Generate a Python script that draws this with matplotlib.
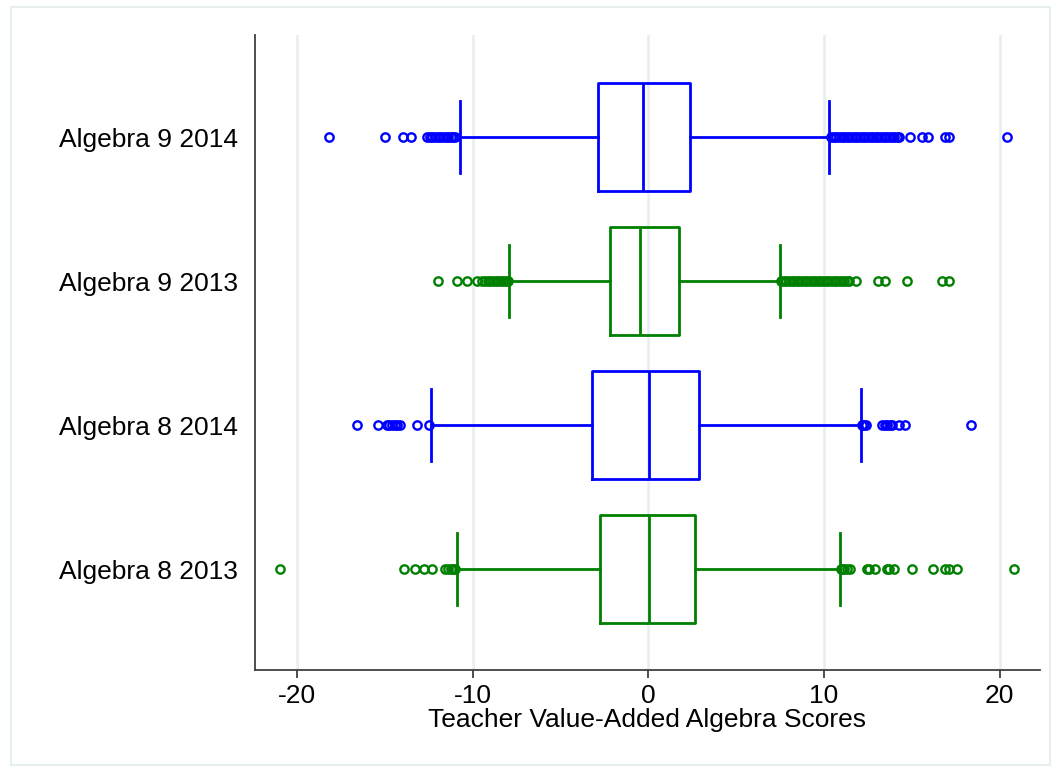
import matplotlib
matplotlib.use("Agg")
import matplotlib.pyplot as plt
from matplotlib.patches import Rectangle

plt.rcParams['font.family'] = ['Liberation Sans', 'DejaVu Sans']

# Categories bottom -> top
categories = ["Algebra 8 2013", "Algebra 8 2014", "Algebra 9 2013", "Algebra 9 2014"]
colors = ["#008000", "#0000FF", "#008000", "#0000FF"]

q1 = [-2.77, -3.2, -2.2, -2.87]
median = [0.02, 0.03, -0.46, -0.3]
q3 = [2.64, 2.9, 1.73, 2.36]
whisker_low = [-10.87, -12.4, -7.96, -10.75]
whisker_high = [10.9, 12.08, 7.52, 10.3]

outliers_a8_2013 = [-21.0, -13.9, -13.3, -12.8, -12.3, -11.57, -11.4, -11.25, -11.1, -11.0,
                    10.95, 11.05, 11.15, 11.3, 11.5, 12.45, 12.55, 12.9, 13.6, 13.7, 14.0,
                    15.0, 16.2, 16.9, 17.1, 17.6, 20.8]
outliers_a8_2014 = [-16.6, -15.4, -14.9, -14.75, -14.6, -14.45, -14.3, -14.15, -13.2, -12.5,
                    12.15, 12.25, 12.4, 13.3, 13.45, 13.6, 13.75, 13.9, 14.25, 14.64, 18.35]
outliers_a9_2013 = [-12.0, -10.9, -10.3, -9.76, -9.45, -9.3, -9.15, -9.0, -8.85, -8.7, -8.55,
                    -8.4, -8.25, -8.1, -8.0,
                    7.55, 7.7, 7.85, 8.0, 8.15, 8.3, 8.45, 8.6, 8.75, 8.9, 9.05, 9.2, 9.35,
                    9.5, 9.65, 9.8, 9.95, 10.1, 10.25, 10.4, 10.55, 10.7, 10.85, 11.0, 11.15,
                    11.3, 11.4, 11.8, 13.1, 13.5, 14.7, 16.7, 17.1]
outliers_a9_2014 = [-18.2, -15.0, -14.0, -13.5, -12.6, -12.45, -12.3, -12.15, -12.0, -11.85,
                    -11.7, -11.55, -11.4, -11.25, -11.1, -11.0,
                    10.4, 10.55, 10.7, 10.85, 11.0, 11.15, 11.3, 11.45, 11.6, 11.75, 11.9,
                    12.05, 12.2, 12.35, 12.5, 12.65, 12.8, 12.95, 13.1, 13.25, 13.4, 13.55,
                    13.7, 13.85, 14.0, 14.15, 14.25, 14.9, 15.6, 15.9, 16.9, 17.1, 20.4]
outliers = [outliers_a8_2013, outliers_a8_2014, outliers_a9_2013, outliers_a9_2014]

xticks = [-20, -10, 0, 10, 20]
xlabel = "Teacher Value-Added Algebra Scores"

fig = plt.figure(figsize=(10.53, 7.68), dpi=100)
ax = fig.add_axes([255/1053, 1-670/768, (1040-255)/1053, (670-35)/768])

# outer light frame
fig.patches.append(Rectangle((11/1053, 3/768), (1050-11)/1053, (761-3)/768,
                             transform=fig.transFigure, fill=False,
                             edgecolor="#E6EEF0", linewidth=1.5, zorder=0))

for i in range(len(categories)):
    stats = [dict(med=median[i], q1=q1[i], q3=q3[i], whislo=whisker_low[i],
                  whishi=whisker_high[i], fliers=outliers[i], label=categories[i])]
    c = colors[i]
    ax.bxp(stats, positions=[i + 1], widths=0.75, vert=False,
           boxprops=dict(color=c, linewidth=2.0),
           medianprops=dict(color=c, linewidth=2.0),
           whiskerprops=dict(color=c, linewidth=2.0),
           capprops=dict(color=c, linewidth=2.0),
           capwidths=0.5,
           flierprops=dict(marker='o', markerfacecolor='none', markeredgecolor=c,
                           markersize=6.0, markeredgewidth=1.7, linestyle='none'),
           manage_ticks=False, zorder=3)

ax.set_xlim(-22.4, 22.3)
ax.set_ylim(0.30, 4.71)
ax.set_yticks(range(1, len(categories) + 1))
ax.set_yticklabels(categories, fontsize=19)
ax.set_xticks(xticks)
ax.set_xticklabels([str(t) for t in xticks], fontsize=19)
ax.set_xlabel(xlabel, fontsize=19, labelpad=0)

ax.grid(axis='x', color="#E6EEF0", linewidth=1.8, zorder=0)
ax.set_axisbelow(True)
ax.spines['top'].set_visible(False)
ax.spines['right'].set_visible(False)
for s in ('left', 'bottom'):
    ax.spines[s].set_color("#404040")
    ax.spines[s].set_linewidth(1.3)
ax.tick_params(axis='y', length=0, pad=12)
ax.tick_params(axis='x', length=6, width=1.3, color="#404040", pad=4)

fig.savefig("out.png", dpi=100)
